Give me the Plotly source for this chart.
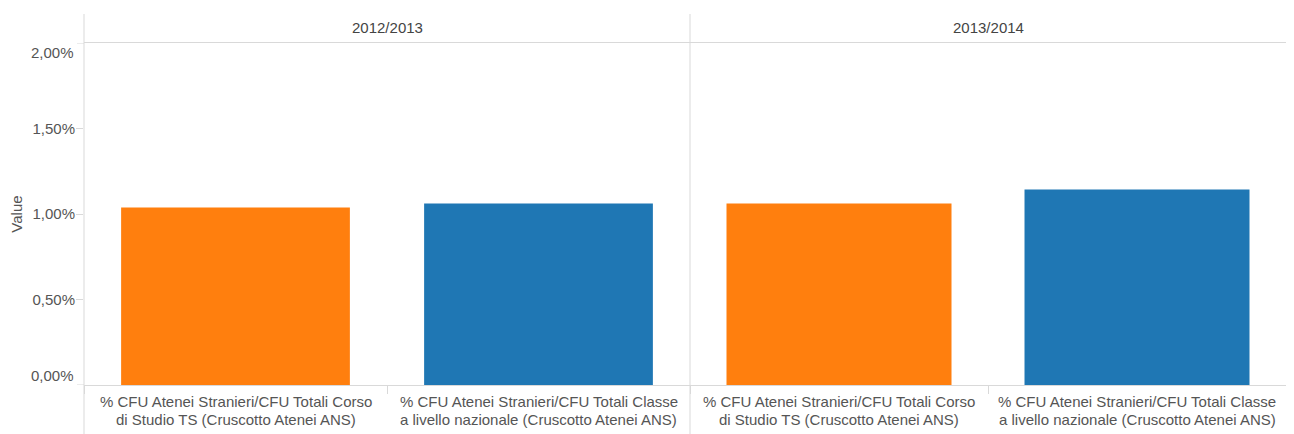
import plotly.graph_objects as go

years = ["2012/2013", "2013/2014"]
categories = [
    "% CFU Atenei Stranieri/CFU Totali Corso di Studio TS (Cruscotto Atenei ANS)",
    "% CFU Atenei Stranieri/CFU Totali Classe a livello nazionale (Cruscotto Atenei ANS)",
]
label_line1 = [
    "% CFU Atenei Stranieri/CFU Totali Corso",
    "% CFU Atenei Stranieri/CFU Totali Classe",
]
label_line2 = [
    "di Studio TS (Cruscotto Atenei ANS)",
    "a livello nazionale (Cruscotto Atenei ANS)",
]
values_2012_2013 = [0.01038, 0.01061]
values_2013_2014 = [0.01061, 0.01143]
bar_colors = ["#ff7f0e", "#1f77b4"]
y_ticks = [0.0, 0.005, 0.01, 0.015, 0.02]

FONT = "Arial, Liberation Sans, sans-serif"
GRID = "#d9d9d9"
TXT = "#555555"

# page body has an 8px margin; figure is sized/placed to compensate
OFF = 8
W, H = 1294 - 2 * OFF, 434 - OFF
ML, MR, MT = 84 - OFF, 0, 43 - OFF
ph = 342
MB = H - MT - ph
split = (690 - 84) / (W - ML - MR)

fig = go.Figure()
series = [values_2012_2013, values_2013_2014]
axes = ["x", "x2"]
for i, (yr, vals) in enumerate(zip(years, series)):
    fig.add_trace(go.Bar(
        x=categories, y=vals, marker=dict(color=bar_colors, line=dict(width=0)),
        xaxis=axes[i], yaxis="y", name=yr, showlegend=False,
        hovertemplate="%{y:.2%}<extra></extra>",
    ))

xcommon = dict(
    type="category", tickmode="array", tickvals=categories, showticklabels=False,
    tickson="boundaries", ticks="outside", ticklen=8, tickcolor=GRID, tickwidth=1,
    showline=True, linecolor=GRID, linewidth=1, mirror=True,
    showgrid=False, zeroline=False,
)
fig.update_layout(
    width=W, height=H,
    margin=dict(l=ML, r=MR, t=MT, b=MB, pad=0),
    paper_bgcolor="white", plot_bgcolor="white",
    separators=",.",
    bargap=0.245,
    font=dict(family=FONT, size=15, color=TXT),
    xaxis=dict(domain=[0, split], anchor="y", **xcommon),
    xaxis2=dict(domain=[split, 1], anchor="y", **xcommon),
    yaxis=dict(
        range=[0, 0.02], tickmode="array", tickvals=y_ticks[1:-1],
        tickformat=".2%", ticks="outside", ticklen=7, tickcolor=GRID,
        ticklabelstandoff=-2,
        showline=False, showgrid=False, zeroline=False,
        tickfont=dict(family=FONT, size=15, color=TXT),
        title=dict(text="Value", font=dict(family=FONT, size=15, color=TXT), standoff=8),
    ),
)

# category labels (two lines, tight spacing like the reference)
for ax in axes:
    for cat, l1, l2 in zip(categories, label_line1, label_line2):
        for txt, shift in [(l1, -16), (l2, -34)]:
            fig.add_annotation(
                x=cat, xref=ax, y=0, yref="y", text=txt, showarrow=False,
                xanchor="center", yanchor="middle", yshift=shift,
                font=dict(family=FONT, size=15, color=TXT),
            )

# end tick labels (shifted inward like the reference)
for v, shift in [(y_ticks[0], 10), (y_ticks[-1], -9)]:
    fig.add_annotation(
        x=0, xref="paper", y=v, yref="y", text=f"{v*100:.2f}%".replace(".", ","),
        showarrow=False, xanchor="right", xshift=-8, yshift=shift,
        font=dict(family=FONT, size=15, color=TXT),
    )
    fig.add_shape(type="line", xref="paper", yref="y", x0=-7 / (W - ML), x1=0, y0=v, y1=v,
                  line=dict(color=GRID, width=1))

# facet headers
for yr, (d0, d1) in zip(years, [(0, split), (split, 1)]):
    fig.add_annotation(
        x=(d0 + d1) / 2, xref="paper", y=(ph + MT - (27.5 - OFF)) / ph, yref="paper",
        text=yr, showarrow=False, xanchor="center", yanchor="middle",
        font=dict(family=FONT, size=15, color="#444444"),
    )

# facet separators extending through header and label rows
for xp in [0, split]:
    fig.add_shape(type="line", xref="paper", yref="paper", x0=xp, x1=xp,
                  y0=-MB / ph, y1=(ph + MT - (14 - OFF)) / ph, line=dict(color=GRID, width=1))

fig.write_html("out.html")
